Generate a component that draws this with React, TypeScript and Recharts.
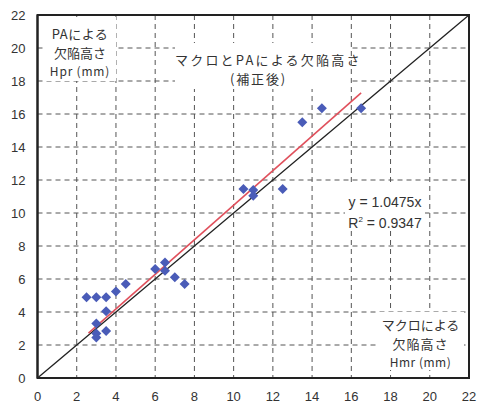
import React from 'react';
import {
  ScatterChart,
  Scatter,
  XAxis,
  YAxis,
  CartesianGrid,
  ReferenceLine,
  ReferenceArea,
} from 'recharts';

/* ---------- data ---------- */
// マクロによる欠陥高さ Hmr (mm)
const macroHeight = [
  2.5, 3, 3.5, 3.5, 4, 4.5, 3, 3, 3, 3.5, 6, 6.5, 6.5, 7, 7.5, 10.5, 11, 11,
  12.5, 13.5, 14.5, 16.5,
];
// PAによる欠陥高さ Hpr (mm)
const paHeight = [
  4.9, 4.9, 4.9, 4.05, 5.25, 5.7, 3.3, 2.7, 2.45, 2.85, 6.6, 7.0, 6.5, 6.1,
  5.7, 11.45, 11.4, 11.05, 11.45, 15.5, 16.35, 16.35,
];
const axisTicks = [0, 2, 4, 6, 8, 10, 12, 14, 16, 18, 20, 22];
const fitSlope = 1.0475;
const fitRange = [2.6, 16.5];
const fitR2 = '0.9347';

const points = macroHeight.map((x, i) => ({ x, y: paHeight[i] }));

const JP = '"Noto Sans CJK JP", "Noto Sans", sans-serif';
const LATIN = '"Liberation Sans", Arial, sans-serif';
const TEXT = '#333';

const Diamond = (props: any) => {
  const { cx, cy } = props;
  const r = 5;
  return (
    <path
      d={`M${cx},${cy - r}L${cx + r},${cy}L${cx},${cy + r}L${cx - r},${cy}Z`}
      fill="#4a5cb8"
    />
  );
};

const box = (
  left: number,
  top: number,
  width: number,
  height: number,
  paddingTop: number,
): React.CSSProperties => ({
  position: 'absolute',
  left,
  top,
  width,
  height,
  paddingTop,
  boxSizing: 'border-box',
  background: '#fff',
  textAlign: 'center',
  color: TEXT,
  fontFamily: JP,
  whiteSpace: 'nowrap',
});

export default function App() {
  return (
    <div style={{ position: 'absolute', left: 0, top: 0, width: 477, height: 408 }}>
      <ScatterChart
        width={477}
        height={408}
        margin={{ top: 15, right: 8, bottom: 5, left: 7.5 }}
      >
        <CartesianGrid strokeDasharray="5 4" stroke="#555" />
        <XAxis
          type="number"
          dataKey="x"
          domain={[0, 22]}
          ticks={axisTicks}
          height={25}
          tickLine={false}
          tickMargin={8}
          axisLine={{ stroke: '#222', strokeWidth: 2 }}
          tick={{ fill: TEXT, fontSize: 13, fontFamily: LATIN }}
        />
        <YAxis
          type="number"
          dataKey="y"
          domain={[0, 22]}
          ticks={axisTicks}
          width={30}
          tickLine={false}
          tickMargin={6}
          axisLine={{ stroke: '#222', strokeWidth: 2 }}
          tick={{ fill: TEXT, fontSize: 13, fontFamily: LATIN }}
        />
        <ReferenceArea
          x1={0}
          x2={22}
          y1={0}
          y2={22}
          fill="none"
          stroke="#222"
          strokeWidth={2}
        />
        <ReferenceLine
          segment={[
            { x: 0, y: 0 },
            { x: 22, y: 22 },
          ]}
          stroke="#222"
          strokeWidth={1.3}
        />
        <ReferenceLine
          segment={[
            { x: fitRange[0], y: fitSlope * fitRange[0] },
            { x: fitRange[1], y: fitSlope * fitRange[1] },
          ]}
          stroke="#e0505c"
          strokeWidth={1.6}
        />
        <Scatter data={points} shape={Diamond} isAnimationActive={false} />
      </ScatterChart>

      <div style={box(44, 17, 72, 64, 7)}>
        <div style={{ fontSize: 13, lineHeight: '19px', letterSpacing: 0.5 }}>PAによる</div>
        <div style={{ fontSize: 13, lineHeight: '19px' }}>欠陥高さ</div>
        <div style={{ fontSize: 12, lineHeight: '18px', letterSpacing: 0.8 }}>Hpr (mm)</div>
      </div>

      <div style={box(175, 43, 175, 46, 7)}>
        <div style={{ fontSize: 13, lineHeight: '19px', letterSpacing: 2.2 }}>
          マクロとPAによる欠陥高さ
        </div>
        <div style={{ fontSize: 13, lineHeight: '19px', letterSpacing: 1.8, paddingRight: 8 }}>
          (補正後)
        </div>
      </div>

      <div style={{ ...box(345, 186, 80, 43, 7), fontFamily: LATIN }}>
        <div style={{ fontSize: 14, lineHeight: '18px' }}>y = {fitSlope}x</div>
        <div style={{ fontSize: 14, lineHeight: '18px' }}>
          R<sup style={{ fontSize: 8, verticalAlign: 6 }}>2</sup> = {fitR2}
        </div>
      </div>

      <div style={box(377, 312, 87, 58, 3)}>
        <div style={{ fontSize: 13, lineHeight: '19px' }}>マクロによる</div>
        <div style={{ fontSize: 13, lineHeight: '19px', letterSpacing: 1 }}>欠陥高さ</div>
        <div style={{ fontSize: 12, lineHeight: '17px', letterSpacing: 0.5 }}>Hmr (mm)</div>
      </div>
    </div>
  );
}
